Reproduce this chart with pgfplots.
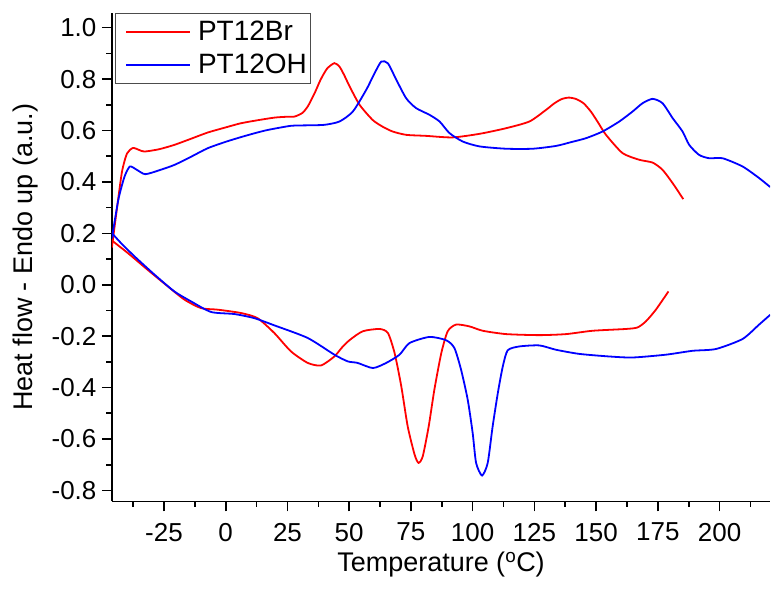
\documentclass[border=0pt]{standalone}
\usepackage{fontspec}
\setmainfont{Liberation Sans}
\usepackage{pgfplots}
\pgfplotsset{compat=1.18}

% heating (upper) and cooling (lower) traces
\pgfplotstableread{
T Y
-46.1 0.145
-44.0 0.300
-42.0 0.440
-40.0 0.510
-37.6 0.532
-35.0 0.524
-32.9 0.518
-27.0 0.527
-20.8 0.544
-14.0 0.568
-7.3 0.592
0.0 0.612
6.1 0.628
13.0 0.640
19.7 0.650
24.0 0.653
27.8 0.654
31.0 0.668
33.2 0.693
36.0 0.745
38.4 0.797
41.0 0.840
44.0 0.862
46.1 0.848
48.0 0.815
50.2 0.771
54.2 0.700
59.5 0.641
63.5 0.615
67.6 0.596
73.1 0.583
81.2 0.579
91.8 0.573
102.8 0.587
113.6 0.609
123.0 0.635
129.7 0.680
133.0 0.705
136.0 0.722
139.0 0.728
142.0 0.722
145.0 0.705
148.0 0.672
151.0 0.628
154.0 0.583
160.7 0.512
167.5 0.486
172.9 0.475
176.9 0.447
181.0 0.395
185.3 0.333
}\redheat
\pgfplotstableread{
T Y
-46.1 0.172
-39.6 0.123
-31.6 0.058
-23.5 -0.006
-16.7 -0.058
-10.0 -0.091
-3.2 -0.097
6.2 -0.110
12.9 -0.130
19.7 -0.188
26.4 -0.259
33.2 -0.304
38.6 -0.314
44.0 -0.279
47.0 -0.245
50.2 -0.215
55.5 -0.181
62.3 -0.172
65.7 -0.188
68.4 -0.266
71.1 -0.395
73.7 -0.551
76.5 -0.661
78.1 -0.693
79.8 -0.667
82.2 -0.551
84.5 -0.408
87.3 -0.266
89.9 -0.181
93.3 -0.155
98.7 -0.162
104.1 -0.179
113.6 -0.192
127.0 -0.196
137.8 -0.192
148.6 -0.179
162.1 -0.172
166.8 -0.166
170.2 -0.142
174.2 -0.097
179.3 -0.026
}\redcool
\pgfplotstableread{
T Y
-46.1 0.180
-43.5 0.330
-41.0 0.420
-38.8 0.460
-36.0 0.447
-32.6 0.430
-27.0 0.445
-20.8 0.466
-14.0 0.498
-7.3 0.531
0.0 0.556
6.1 0.574
12.0 0.590
17.0 0.602
26.3 0.618
33.0 0.620
40.0 0.622
46.1 0.635
51.5 0.674
56.9 0.758
60.3 0.823
63.0 0.868
65.7 0.861
69.1 0.797
73.1 0.725
77.1 0.687
82.5 0.661
86.6 0.635
90.6 0.590
96.0 0.557
102.8 0.538
113.6 0.529
124.3 0.529
133.8 0.540
140.0 0.555
145.9 0.570
152.6 0.596
159.4 0.635
164.8 0.674
168.8 0.706
172.9 0.723
176.9 0.706
181.0 0.648
185.0 0.596
187.7 0.544
191.7 0.505
195.8 0.492
201.2 0.492
209.3 0.460
216.0 0.415
220.5 0.380
}\blueheat
\pgfplotstableread{
T Y
-46.1 0.201
-42.4 0.162
-36.9 0.110
-28.8 0.039
-20.8 -0.026
-14.0 -0.065
-5.9 -0.106
3.5 -0.114
11.6 -0.130
19.7 -0.158
33.2 -0.207
44.0 -0.272
49.4 -0.298
53.4 -0.304
59.6 -0.324
65.0 -0.304
70.4 -0.272
74.4 -0.227
82.5 -0.203
89.3 -0.216
92.6 -0.246
95.3 -0.330
98.0 -0.447
100.0 -0.576
101.4 -0.693
103.8 -0.742
106.1 -0.693
108.1 -0.551
110.2 -0.421
112.2 -0.318
114.2 -0.255
118.9 -0.240
127.0 -0.236
133.8 -0.253
143.2 -0.269
155.3 -0.279
164.8 -0.283
178.3 -0.272
189.0 -0.257
198.5 -0.250
209.3 -0.211
216.0 -0.155
220.5 -0.117
}\bluecool

\begin{document}
\begin{tikzpicture}
\begin{axis}[
    scale only axis, width=659pt, height=489pt,
    xmin=-46.1, xmax=220.5, ymin=-0.843, ymax=1.057,
    axis x line=bottom, axis y line=left,
    axis line style={-, line width=1.6pt},
    tick align=outside, major tick length=10pt, minor tick length=5.5pt,
    every tick/.style={black, line width=1.6pt},
    xtick={-25,0,25,50,75,100,125,150,175,200},
    minor xtick={-37.5,-12.5,12.5,37.5,62.5,87.5,112.5,137.5,162.5,187.5,212.5},
    ytick={-0.8,-0.6,-0.4,-0.2,0,0.2,0.4,0.6,0.8,1.0},
    minor ytick={-0.7,-0.5,-0.3,-0.1,0.1,0.3,0.5,0.7,0.9},
    /pgf/number format/assume math mode=true,
    ticklabel style={font=\fontsize{26}{30}\selectfont},
    xticklabel style={yshift=-8pt},
    yticklabel style={xshift=-2pt, /pgf/number format/.cd, fixed, fixed zerofill, precision=1},
    xlabel={Temperature (\textsuperscript{o}C)},
    ylabel={Heat flow - Endo up (a.u.)},
    label style={font=\fontsize{27}{31}\selectfont},
    xlabel style={at={(axis description cs:0.5,0)}, anchor=base, yshift=-70pt},
    ylabel style={at={(axis description cs:-0.131,0.5)}, anchor=center},
    legend style={at={(axis description cs:0.0046,1)}, anchor=north west,
        draw=black!70, line width=0.8pt, font=\fontsize{28}{34}\selectfont,
        inner xsep=2pt, inner ysep=6pt, row sep=8pt, cells={anchor=west},
        /tikz/every odd column/.append style={column sep=5pt}},
    legend image code/.code={\path (0pt,0pt);
        \draw[#1, line width=1.8pt] (8pt,0pt) -- (72pt,0pt);},
    every axis plot/.append style={line width=1.8pt, smooth, tension=0.4},
]
\addplot[red] table[x=T, y=Y] {\redheat};
\addlegendentry{PT12Br}
\addplot[blue] table[x=T, y=Y] {\blueheat};
\addlegendentry{PT12OH}
\addplot[red, forget plot] table[x=T, y=Y] {\redcool};
\addplot[blue, forget plot] table[x=T, y=Y] {\bluecool};
\end{axis}
\path (current axis.south west) ++(-112pt,-87pt);
\path (current axis.north east) ++(0pt,13pt);
\end{tikzpicture}
\end{document}
